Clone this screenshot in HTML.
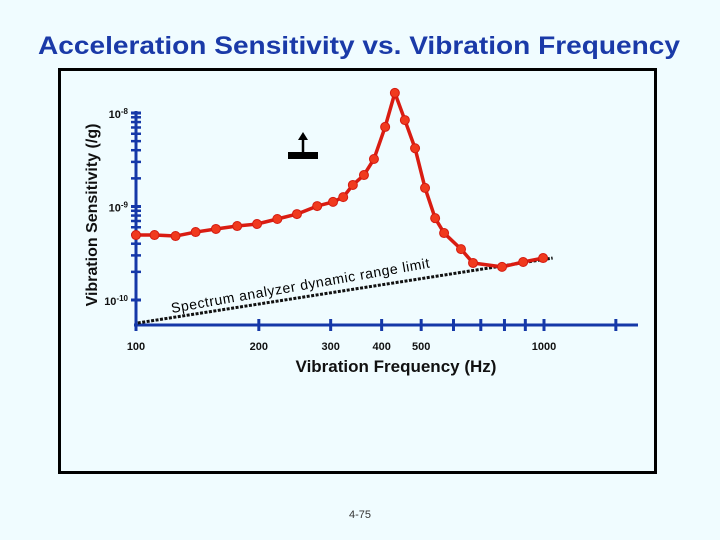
<!DOCTYPE html>
<html><head><meta charset="utf-8"><style>
html,body{margin:0;padding:0;background:#f0fcff;width:720px;height:540px;overflow:hidden;font-family:"Liberation Sans",Arial,sans-serif}
</style></head><body>
<svg id="chart" width="720" height="540" xmlns="http://www.w3.org/2000/svg">
<rect x="0" y="0" width="720" height="540" fill="#f0fcff"/>
<text x="359" y="54" text-anchor="middle" font-size="25" font-weight="bold" fill="#1a3aa8" textLength="642" lengthAdjust="spacingAndGlyphs">Acceleration Sensitivity vs. Vibration Frequency</text>
<rect x="59.5" y="69.5" width="596" height="403" fill="none" stroke="#000" stroke-width="3"/>
<text transform="translate(97,215) rotate(-90)" text-anchor="middle" font-size="16" font-weight="bold" fill="#111">Vibration Sensitivity (/g)</text>
<text x="396" y="372" text-anchor="middle" font-size="17" font-weight="bold" fill="#111">Vibration Frequency (Hz)</text>
<text x="360" y="518" text-anchor="middle" font-size="11" fill="#333">4-75</text>
<g id="axes"></g>
<g id="marks"></g>
<g>
<rect x="288" y="152" width="30" height="7" fill="#000"/>
<line x1="303" y1="152" x2="303" y2="138" stroke="#000" stroke-width="2.5"/>
<polygon points="298,140 308,140 303,132" fill="#000"/>
</g>
<text transform="translate(172,313) rotate(-10)" font-size="14" fill="#000" textLength="262" lengthAdjust="spacing">Spectrum analyzer dynamic range limit</text>
</svg>
<script>
const freqs=[100,111,125,140,157,177,198,222,248,278,304,322,340,362,383,408,431,456,483,511,541,569,626,670,789,889,995];
const sens=[4.95e-10,4.95e-10,4.83e-10,5.33e-10,5.75e-10,6.18e-10,6.5e-10,7.35e-10,8.3e-10,1.01e-9,1.12e-9,1.26e-9,1.7e-9,2.17e-9,3.22e-9,7.1e-9,1.64e-8,8.4e-9,4.2e-9,1.58e-9,7.5e-10,5.2e-10,3.5e-10,2.49e-10,2.26e-10,2.55e-10,2.81e-10];
const limitFreqs=[101,1050];
const limitVals=[5.68e-11,2.81e-10];
const xTicks=[100,200,300,400,500,600,700,800,900,1000,1500];
const xTickLabels=["100","200","300","400","500","","","","","1000",""];
const yMajor=[1e-8,1e-9,1e-10];
const yMajorLabels=["-8","-9","-10"];
const NS='http://www.w3.org/2000/svg';
const x=f=>136+408*Math.log10(f/100);
const y=v=>113+93.5*(-8-Math.log10(v));
function mk(t,a,p){const e=document.createElementNS(NS,t);for(const k in a)e.setAttribute(k,a[k]);p.appendChild(e);return e;}
const ax=document.getElementById('axes'),mg=document.getElementById('marks');
const blue='#1538a8';
const yl=mk('line',{x1:136,y1:111,x2:136,y2:325,stroke:blue,'stroke-width':3},ax);


const xl=mk('line',{x1:134,y1:325,x2:638,y2:325,stroke:blue,'stroke-width':3},ax);


xTicks.forEach((f,i)=>{const t=mk('line',{x1:x(f),y1:319,x2:x(f),y2:331,stroke:blue,'stroke-width':3},ax);


if(xTickLabels[i]){const l=mk('text',{x:x(f),y:350,'text-anchor':'middle','font-size':11,'font-weight':'bold',fill:'#111'},ax);l.textContent=xTickLabels[i];

}});
yMajor.forEach((v,i)=>{
for(let m=1;m<10;m++){const yy=y(v*m);if(yy<108||yy>325)continue;
const t=mk('line',{x1:131,y1:yy,x2:141,y2:yy,stroke:blue,'stroke-width':m===1?3:2.5},ax);

}
const l=mk('text',{x:128,y:y(v)+5,'text-anchor':'end','font-size':11,'font-weight':'bold',fill:'#111'},ax);


l.innerHTML='10<tspan font-size="8" dy="-4">'+yMajorLabels[i]+'</tspan>';});
const lim=mk('polyline',{points:limitFreqs.map((f,i)=>x(f)+','+y(limitVals[i])).join(' '),fill:'none',stroke:'#111','stroke-width':3,'stroke-dasharray':'3,1.5'},mg);


const pl=mk('polyline',{points:freqs.map((f,i)=>x(f)+','+y(sens[i])).join(' '),fill:'none',stroke:'#d91c12','stroke-width':3.5,'stroke-linejoin':'round'},mg);


freqs.forEach((f,i)=>{const c=mk('circle',{cx:x(f),cy:y(sens[i]),r:4.5,fill:'#f03a1e',stroke:'#d41a10','stroke-width':1},mg);

});
</script>
</body></html>
